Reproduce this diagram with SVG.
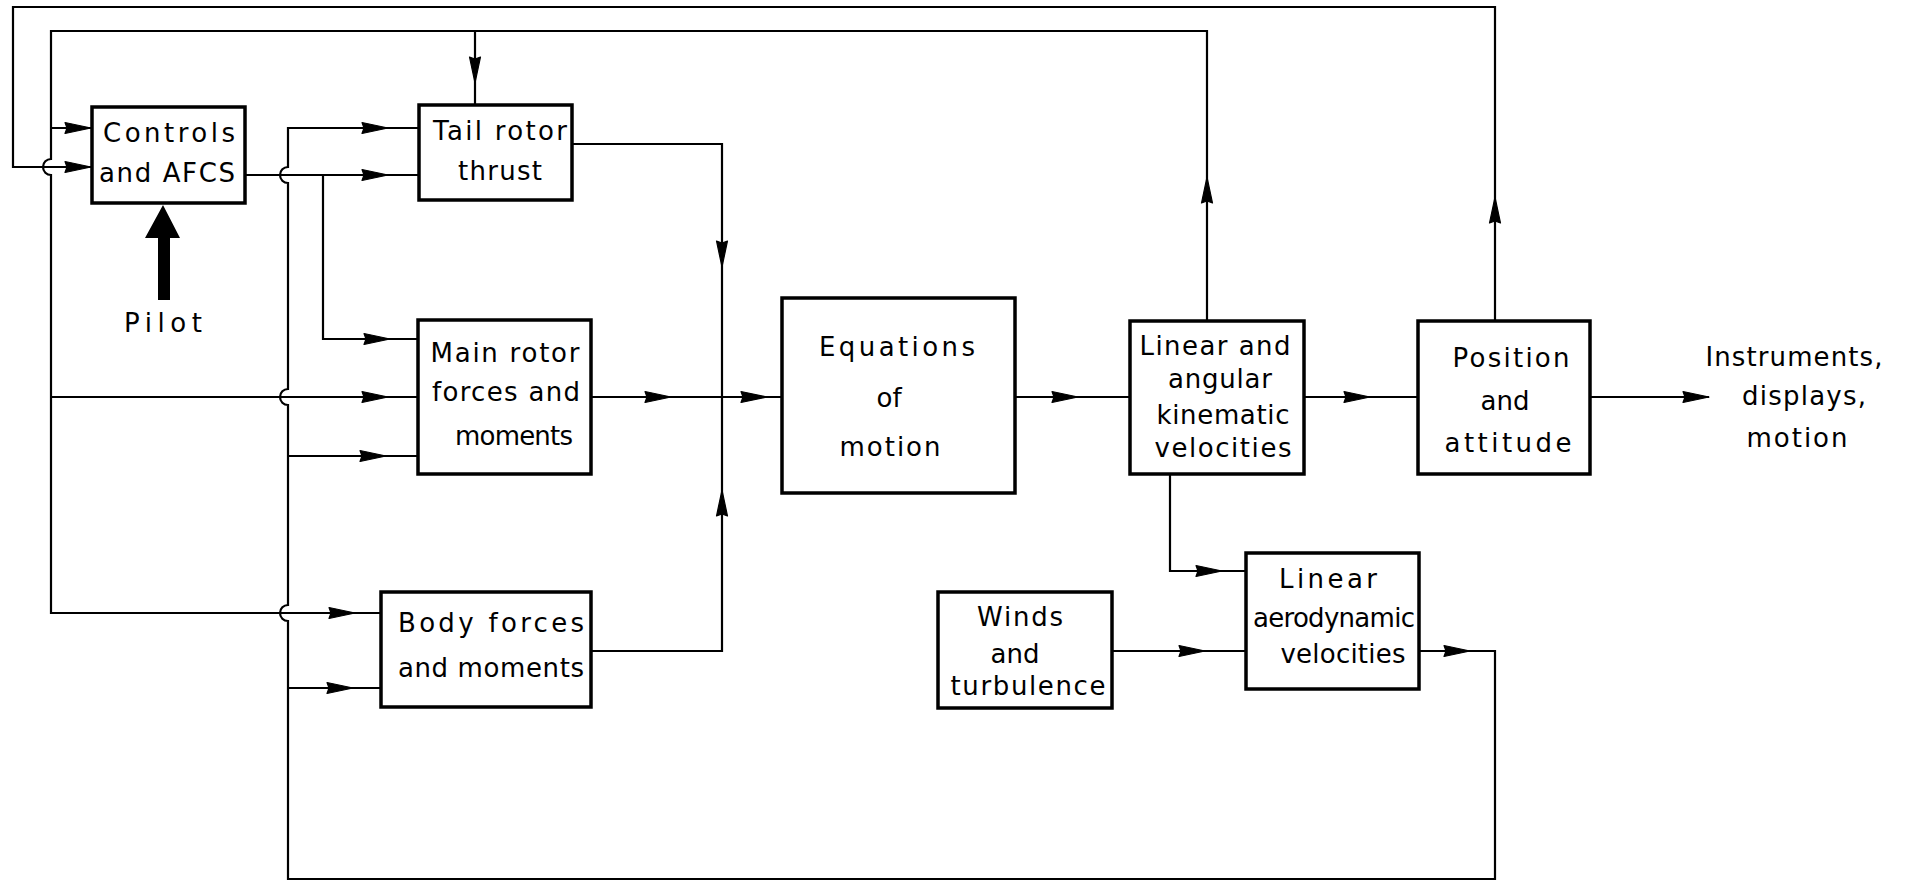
<svg xmlns="http://www.w3.org/2000/svg" xmlns:xlink="http://www.w3.org/1999/xlink" width="1906" height="883" viewBox="0 0 1906 883">
<style>
  .box { fill: #fff; stroke: #000; stroke-width: 3.5; }
  .ln { fill: none; stroke: #000; stroke-width: 2.2; }
  .t { font-family: "DejaVu Sans", "Liberation Sans", sans-serif; font-size: 26px; fill: #000; text-anchor: middle; }
</style>
<defs>
  <polygon id="ah" points="0,0 -26,-5.5 -24,0 -26,5.5" fill="#000" stroke="#000" stroke-width="1.2" stroke-linejoin="round"/>
</defs>
<rect width="1906" height="883" fill="#fff"/>

<g id="connectors">
  <!-- outer loop from Position and attitude to Controls -->
  <path class="ln" d="M1495 321 V7 H13 V167 H91"/>
  <!-- second loop from kinematic velocities -->
  <path class="ln" d="M1207 321 V31 H51 V159 A8 8 0 0 0 51 175 V613 H381"/>
  <path class="ln" d="M51 128 H91"/>
  <path class="ln" d="M51 397 H418"/>
  <path class="ln" d="M475 31 V105"/>
  <!-- controls output -->
  <path class="ln" d="M245 175 H419"/>
  <path class="ln" d="M323 175 V339 H418"/>
  <!-- aerodynamic feedback bus -->
  <path class="ln" d="M1419 651 H1495 V879 H288 V621 A8 8 0 0 1 288 605 V405 A8 8 0 0 1 288 389 V183 A8 8 0 0 1 288 167 V128 H419"/>
  <path class="ln" d="M288 456 H418"/>
  <path class="ln" d="M288 688 H381"/>
  <!-- forces summation -->
  <path class="ln" d="M572 144 H722 V651 H591"/>
  <path class="ln" d="M591 397 H782"/>
  <path class="ln" d="M1015 397 H1130"/>
  <path class="ln" d="M1304 397 H1418"/>
  <path class="ln" d="M1590 397 H1709"/>
  <path class="ln" d="M1170 474 V571 H1246"/>
  <path class="ln" d="M1112 651 H1246"/>
  <!-- arrowheads -->
  <use xlink:href="#ah" transform="translate(91,128)"/>
  <use xlink:href="#ah" transform="translate(91,167)"/>
  <use xlink:href="#ah" transform="translate(388,128)"/>
  <use xlink:href="#ah" transform="translate(388,175)"/>
  <use xlink:href="#ah" transform="translate(475,83) rotate(90)"/>
  <use xlink:href="#ah" transform="translate(390,339)"/>
  <use xlink:href="#ah" transform="translate(388,397)"/>
  <use xlink:href="#ah" transform="translate(386,456)"/>
  <use xlink:href="#ah" transform="translate(355,613)"/>
  <use xlink:href="#ah" transform="translate(353,688)"/>
  <use xlink:href="#ah" transform="translate(722,267) rotate(90)"/>
  <use xlink:href="#ah" transform="translate(722,490) rotate(-90)"/>
  <use xlink:href="#ah" transform="translate(671,397)"/>
  <use xlink:href="#ah" transform="translate(767,397)"/>
  <use xlink:href="#ah" transform="translate(1078,397)"/>
  <use xlink:href="#ah" transform="translate(1207,177) rotate(-90)"/>
  <use xlink:href="#ah" transform="translate(1495,197) rotate(-90)"/>
  <use xlink:href="#ah" transform="translate(1370,397)"/>
  <use xlink:href="#ah" transform="translate(1709,397)"/>
  <use xlink:href="#ah" transform="translate(1222,571)"/>
  <use xlink:href="#ah" transform="translate(1205,651)"/>
  <use xlink:href="#ah" transform="translate(1470,651)"/>
</g>

<g id="pilot">
  <polygon points="163,205 180,238 170,238 170,300 158,300 158,238 145,238" fill="#000"/>
  <text class="t" x="163" y="332" textLength="78" lengthAdjust="spacing">Pilot</text>
</g>

<g id="controls">
  <rect class="box" x="92" y="107" width="153" height="96"/>
  <text class="t" x="169" y="142" textLength="132" lengthAdjust="spacing">Controls</text>
  <text class="t" x="167" y="182" textLength="136" lengthAdjust="spacing">and AFCS</text>
</g>

<g id="tail-rotor">
  <rect class="box" x="419" y="105" width="153" height="95"/>
  <text class="t" x="500" y="140" textLength="134" lengthAdjust="spacing">Tail rotor</text>
  <text class="t" x="500" y="180" textLength="84" lengthAdjust="spacing">thrust</text>
</g>

<g id="main-rotor">
  <rect class="box" x="418" y="320" width="173" height="154"/>
  <text class="t" x="505" y="362" textLength="149" lengthAdjust="spacing">Main rotor</text>
  <text class="t" x="506" y="401" textLength="148" lengthAdjust="spacing">forces and</text>
  <text class="t" x="514" y="445" textLength="118" lengthAdjust="spacing">moments</text>
</g>

<g id="body">
  <rect class="box" x="381" y="592" width="210" height="115"/>
  <text class="t" x="491" y="632" textLength="186" lengthAdjust="spacing">Body forces</text>
  <text class="t" x="491" y="677" textLength="186" lengthAdjust="spacing">and moments</text>
</g>

<g id="equations">
  <rect class="box" x="782" y="298" width="233" height="195"/>
  <text class="t" x="897" y="356" textLength="156" lengthAdjust="spacing">Equations</text>
  <text class="t" x="889" y="407">of</text>
  <text class="t" x="890" y="456" textLength="101" lengthAdjust="spacing">motion</text>
</g>

<g id="kinematic">
  <rect class="box" x="1130" y="321" width="174" height="153"/>
  <text class="t" x="1215" y="355" textLength="151" lengthAdjust="spacing">Linear and</text>
  <text class="t" x="1220" y="388" textLength="104" lengthAdjust="spacing">angular</text>
  <text class="t" x="1223" y="424" textLength="133" lengthAdjust="spacing">kinematic</text>
  <text class="t" x="1223" y="457" textLength="137" lengthAdjust="spacing">velocities</text>
</g>

<g id="position">
  <rect class="box" x="1418" y="321" width="172" height="153"/>
  <text class="t" x="1511" y="367" textLength="117" lengthAdjust="spacing">Position</text>
  <text class="t" x="1505" y="410">and</text>
  <text class="t" x="1508" y="452" textLength="127" lengthAdjust="spacing">attitude</text>
</g>

<g id="instruments">
  <text class="t" x="1794" y="366" textLength="177" lengthAdjust="spacing">Instruments,</text>
  <text class="t" x="1804" y="405" textLength="124" lengthAdjust="spacing">displays,</text>
  <text class="t" x="1797" y="447" textLength="101" lengthAdjust="spacing">motion</text>
</g>

<g id="winds">
  <rect class="box" x="938" y="592" width="174" height="116"/>
  <text class="t" x="1020" y="626" textLength="86" lengthAdjust="spacing">Winds</text>
  <text class="t" x="1015" y="663">and</text>
  <text class="t" x="1028" y="695" textLength="155" lengthAdjust="spacing">turbulence</text>
</g>

<g id="aerodynamic">
  <rect class="box" x="1246" y="553" width="173" height="136"/>
  <text class="t" x="1328" y="588" textLength="98" lengthAdjust="spacing">Linear</text>
  <text class="t" x="1334" y="627" textLength="162" lengthAdjust="spacing">aerodynamic</text>
  <text class="t" x="1343" y="663" textLength="125" lengthAdjust="spacing">velocities</text>
</g>
</svg>
